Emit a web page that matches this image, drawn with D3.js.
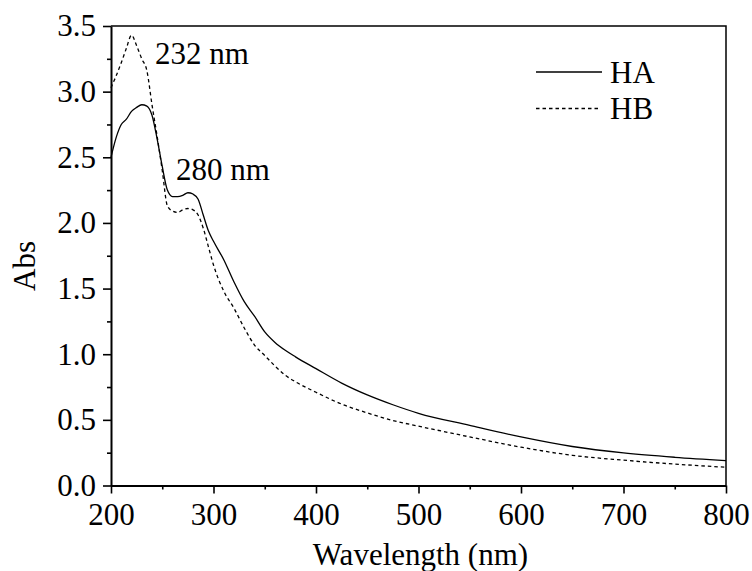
<!DOCTYPE html>
<html>
<head>
<meta charset="utf-8">
<script src="https://cdn.jsdelivr.net/npm/d3@7"></script>
<style>
	body { margin: 0; background: #fff; }
	svg text { font-family: 'Liberation Serif', 'DejaVu Serif', 'Times New Roman', serif; fill: #000; }
</style>
</head>
<body>
<div id="chart"></div>
<script>
// wavelength grid (nm) and absorbance
var wavelengths = [200, 205, 210, 215, 220, 225, 230, 235, 240, 245, 250, 255, 260, 265, 270, 275, 280, 285, 290, 295,
	300, 310, 320, 330, 340, 350, 360, 370, 380, 400, 425, 450, 475, 500, 550, 600, 650, 700, 750, 800]

var haAbs = [2.50, 2.65, 2.75, 2.79, 2.85, 2.88, 2.90, 2.89, 2.82, 2.64, 2.43, 2.25, 2.20, 2.20, 2.21, 2.23, 2.22, 2.18, 2.06, 1.94,
	1.86, 1.72, 1.55, 1.40, 1.29, 1.17, 1.09, 1.03, 0.98, 0.89, 0.78, 0.69, 0.615, 0.55, 0.458, 0.37, 0.297, 0.248, 0.215, 0.19]

var hbAbs = [3.03, 3.12, 3.22, 3.33, 3.43, 3.35, 3.25, 3.16, 2.90, 2.66, 2.40, 2.13, 2.09, 2.08, 2.10, 2.11, 2.10, 2.06, 1.96, 1.82,
	1.68, 1.48, 1.35, 1.20, 1.07, 0.99, 0.91, 0.84, 0.79, 0.71, 0.62, 0.553, 0.495, 0.452, 0.37, 0.292, 0.23, 0.193, 0.163, 0.139]

var xTicks = [200, 300, 400, 500, 600, 700, 800]
var xMinorTicks = [250, 350, 450, 550, 650, 750]
var yTicks = [0, 0.5, 1.0, 1.5, 2.0, 2.5, 3.0, 3.5]
var yMinorTicks = [0.25, 0.75, 1.25, 1.75, 2.25, 2.75, 3.25]

var seriesNames = ['HA', 'HB']
var peakLabels = ['232 nm', '280 nm']

var W = 752, H = 571
var margin = { top: 26, right: 26, bottom: 85.5, left: 111 }
var fontSize = 31
var fontFamily = "'Liberation Serif', 'DejaVu Serif', 'Times New Roman', serif"

var svg = d3.select('#chart').append('svg')
	.attr('width', W)
	.attr('height', H)

var x = d3.scaleLinear()
	.domain([200, 800])
	.range([margin.left, W - margin.right])

var y = d3.scaleLinear()
	.domain([0, 3.5])
	.range([H - margin.bottom, margin.top])

// frame top + right
svg.append('path')
	.attr('d', 'M' + x(200) + ',' + y(3.5) + 'H' + x(800) + 'V' + y(0))
	.attr('fill', 'none')
	.attr('stroke', '#000')
	.attr('stroke-width', 1.5)

// minor ticks
svg.append('g')
	.attr('transform', 'translate(0,' + y(0) + ')')
	.call(d3.axisBottom(x).tickValues(xMinorTicks).tickSize(4).tickFormat(''))
	.call(function(g) { g.select('.domain').remove() })

svg.append('g')
	.attr('transform', 'translate(' + x(200) + ',0)')
	.call(d3.axisLeft(y).tickValues(yMinorTicks).tickSize(4).tickFormat(''))
	.call(function(g) { g.select('.domain').remove() })

// major axes
svg.append('g')
	.attr('transform', 'translate(0,' + y(0) + ')')
	.call(d3.axisBottom(x).tickValues(xTicks).tickSize(8).tickSizeOuter(0).tickPadding(9).tickFormat(d3.format('d')))

svg.append('g')
	.attr('transform', 'translate(' + x(200) + ',0)')
	.call(d3.axisLeft(y).tickValues(yTicks).tickSize(8).tickSizeOuter(0).tickPadding(7).tickFormat(d3.format('.1f')))

svg.selectAll('.tick line').attr('stroke-width', 1.6)
svg.selectAll('.domain').attr('stroke-width', 2)
svg.selectAll('g').attr('font-family', null).attr('font-size', null)
svg.selectAll('.tick text')
	.style('font-family', fontFamily)
	.style('font-size', fontSize + 'px')
	.attr('fill', '#000')

// curves
var rows = wavelengths.map(function(w, i) {
	return { w: w, ha: haAbs[i], hb: hbAbs[i] }
})

var lineHA = d3.line()
	.x(function(d) { return x(d.w) })
	.y(function(d) { return y(d.ha) })
	.curve(d3.curveMonotoneX)

var lineHB = d3.line()
	.x(function(d) { return x(d.w) })
	.y(function(d) { return y(d.hb) })
	.curve(d3.curveMonotoneX)

svg.append('path')
	.datum(rows)
	.attr('d', lineHA)
	.attr('fill', 'none')
	.attr('stroke', '#000')
	.attr('stroke-width', 1.3)

svg.append('path')
	.datum(rows)
	.attr('d', lineHB)
	.attr('fill', 'none')
	.attr('stroke', '#000')
	.attr('stroke-width', 1.3)
	.attr('stroke-dasharray', '3.5,3')

// peak annotations
svg.selectAll('.peak')
	.data(peakLabels)
	.enter()
	.append('text')
	.attr('class', 'peak')
	.attr('x', function(d, i) { return i == 0 ? 155 : 176 })
	.attr('y', function(d, i) { return i == 0 ? 64 : 180 })
	.style('font-family', fontFamily)
	.style('font-size', fontSize + 'px')
	.text(function(d) { return d })

// legend
var legend = svg.append('g')
	.selectAll('g')
	.data(seriesNames)
	.enter()
	.append('g')
	.attr('transform', function(d, i) { return 'translate(536,' + (72 + i * 36.5) + ')' })

legend.append('line')
	.attr('x1', 0)
	.attr('x2', function(d, i) { return i == 0 ? 66 : 62 })
	.attr('stroke', '#000')
	.attr('stroke-width', 1.3)
	.attr('stroke-dasharray', function(d, i) { return i == 0 ? null : '3.5,3' })

legend.append('text')
	.attr('x', 74)
	.attr('y', 10.5)
	.style('font-family', fontFamily)
	.style('font-size', fontSize + 'px')
	.text(function(d) { return d })

// axis titles
svg.append('text')
	.attr('x', (x(200) + x(800)) / 2 + 2)
	.attr('y', 565)
	.attr('text-anchor', 'middle')
	.style('font-family', fontFamily)
	.style('font-size', fontSize + 'px')
	.text('Wavelength (nm)')

svg.append('text')
	.attr('transform', 'translate(35,266) rotate(-90)')
	.attr('text-anchor', 'middle')
	.style('font-family', fontFamily)
	.style('font-size', fontSize + 'px')
	.text('Abs')
</script>
</body>
</html>
